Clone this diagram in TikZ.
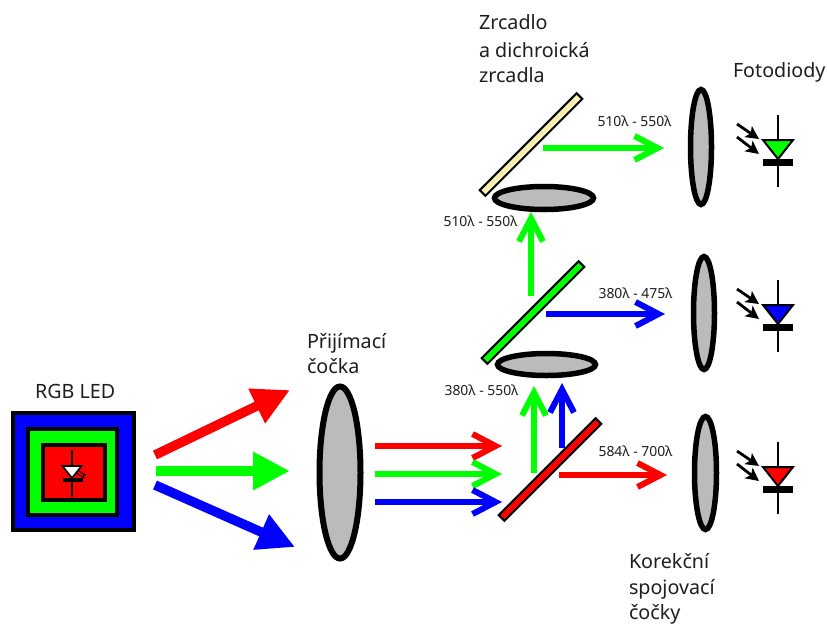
\documentclass[tikz,border=0pt]{standalone}
\usepackage{fontspec}
\setmainfont{Noto Sans}
\usetikzlibrary{arrows.meta,shapes.geometric}
\definecolor{rr}{RGB}{255,0,0}
\definecolor{gg}{RGB}{0,255,0}
\definecolor{bb}{RGB}{0,0,255}
\definecolor{lensgray}{RGB}{187,187,187}
\definecolor{mirroryellow}{RGB}{250,240,180}
\definecolor{labeltext}{RGB}{30,30,30}
\tikzset{
  x=1pt,y=-1pt,
  lab/.style={anchor=base west,inner sep=0,outer sep=0,font=\fontsize{19.7}{21}\selectfont,text=labeltext},
  wave/.style={anchor=center,inner sep=0,outer sep=0,font=\fontsize{13.9}{15}\selectfont,text=labeltext},
  lens/.style={ellipse,draw=black,fill=lensgray,line width=5.5pt,inner sep=0,outer sep=0},
  mirror/.style={rectangle,draw=black,line width=2pt,inner sep=0,outer sep=0,minimum width=137pt,minimum height=8pt,rotate=45},
  sq/.style={rectangle,draw=black,line width=4pt,inner sep=0,outer sep=0},
  big/.style={line width=#1,-{Triangle[length=37pt,width=36pt]}},
  big/.default=9.5pt,
  thin/.style={line width=6pt,draw=#1,-{Straight Barb[length=23pt,width=24pt]}},
  led/.pic={
    \coordinate (-a) at (0,-25);
    \coordinate (-b) at (0,47);
    \draw[line width=2pt] (-a) -- (-b);
    \draw[line width=2pt,fill=#1,line join=miter] (-15,0) -- (15,0) -- (0,19) -- cycle;
    \draw[line width=7pt] (-15,22) -- (15,22);
    \draw[line width=2.8pt,-{Stealth[length=13pt,width=13pt,inset=3pt]}] (-41,-16) -- (-19,-1);
    \draw[line width=2.8pt,-{Stealth[length=13pt,width=13pt,inset=3pt]}] (-41,-3) -- (-19,14);
  }
}
\begin{document}
\begin{tikzpicture}
\useasboundingbox (0,0) rectangle (827,625);
% RGB LED
\node[sq,fill=bb,minimum width=121pt,minimum height=117pt] (sqb) at (73.5,471.5) {};
\node[sq,fill=gg,minimum width=89pt,minimum height=86pt] (sqg) at (72.5,472) {};
\node[sq,fill=rr,minimum width=62pt,minimum height=55pt] (sqr) at (74,472.5) {};
\draw[line width=1.6pt] (72,450) -- (72,497);
\draw[line width=1.6pt,fill=white] (62.5,466) -- (81.5,466) -- (72,478) -- cycle;
\draw[line width=4pt] (63,480) -- (83,480);
\draw[line width=.9pt,-{Stealth[length=3pt,width=3pt]}] (76,473) -- (85,478);
\draw[line width=.9pt,-{Stealth[length=3pt,width=3pt]}] (78,470) -- (86,476);
\node[lab] (rgb) at (35,398) {RGB LED};
% big arrows
\coordinate (r0) at (155,455); \coordinate (r1) at (290,390);
\coordinate (g0) at (156,471); \coordinate (g1) at (290,471);
\coordinate (b0) at (155,485); \coordinate (b1) at (295,547);
\draw[big,draw=rr,fill=rr] (r0) -- (r1);
\draw[big,draw=gg,fill=gg] (g0) -- (g1);
\draw[big,draw=bb,fill=bb] (b0) -- (b1);
% receiving lens
\node[lens,line width=6pt,minimum width=41pt,minimum height=172pt] (rx) at (340,472.5) {};
\node[lab] (t1) at (307,348) {Přijímací};
\node[lab] (t2) at (307,373) {čočka};
% mirrors
\node[mirror,fill=rr] (mr) at (550,469.5) {};
\node[mirror,fill=gg] (mg) at (533,312.5) {};
\node[mirror,fill=mirroryellow] (my) at (531,144.5) {};
% horizontal lenses
\node[lens,minimum width=99pt,minimum height=23pt] (lh1) at (544,198) {};
\node[lens,minimum width=98pt,minimum height=22pt] (lh2) at (546.5,364.5) {};
% right lenses
\node[lens,minimum width=21pt,minimum height=115pt] (lv1) at (701,147) {};
\node[lens,minimum width=21pt,minimum height=113pt] (lv2) at (704,313) {};
\node[lens,minimum width=22pt,minimum height=113pt] (lv3) at (705.5,473) {};
% thin arrows
\coordinate (a1) at (375,446); \coordinate (a2) at (502,446);
\coordinate (a3) at (375,474); \coordinate (a4) at (502,474);
\coordinate (a5) at (375,502); \coordinate (a6) at (502,502);
\draw[thin=rr] (a1) -- (a2);
\draw[thin=gg] (a3) -- (a4);
\draw[thin=bb] (a5) -- (a6);
\coordinate (u1) at (534,473); \coordinate (u2) at (534,386);
\coordinate (u3) at (562,448); \coordinate (u4) at (562,383);
\coordinate (u5) at (531,296); \coordinate (u6) at (531,212);
\draw[thin=gg] (u1) -- (u2);
\draw[thin=bb] (u3) -- (u4);
\draw[thin=gg] (u5) -- (u6);
\coordinate (h1) at (559,475); \coordinate (h2) at (667,475);
\coordinate (h3) at (546,314); \coordinate (h4) at (665,314);
\coordinate (h5) at (543,148); \coordinate (h6) at (664,148);
\draw[thin=rr] (h1) -- (h2);
\draw[thin=bb] (h3) -- (h4);
\draw[thin=gg] (h5) -- (h6);
% photodiodes
\pic (d1) at (778,140) {led=gg};
\pic (d2) at (778,305) {led=bb};
\pic (d3) at (778,467) {led=rr};
% labels
\node[lab] (z1) at (479,29) {Zrcadlo};
\node[lab] (z2) at (479,57) {a dichroická};
\node[lab] (z3) at (479,82) {zrcadla};
\node[lab] (f) at (733,77) {Fotodiody};
\node[lab] (k1) at (629,568) {Korekční};
\node[lab] (k2) at (629,594) {spojovací};
\node[lab] (k3) at (629,619.5) {čočky};
\node[wave] (w1) at (634.5,121) {510λ - 550λ};
\node[wave] (w2) at (635.5,293) {380λ - 475λ};
\node[wave] (w3) at (635.5,451) {584λ - 700λ};
\node[wave] (w4) at (480.5,221) {510λ - 550λ};
\node[wave] (w5) at (481.5,390) {380λ - 550λ};
\end{tikzpicture}
\end{document}
